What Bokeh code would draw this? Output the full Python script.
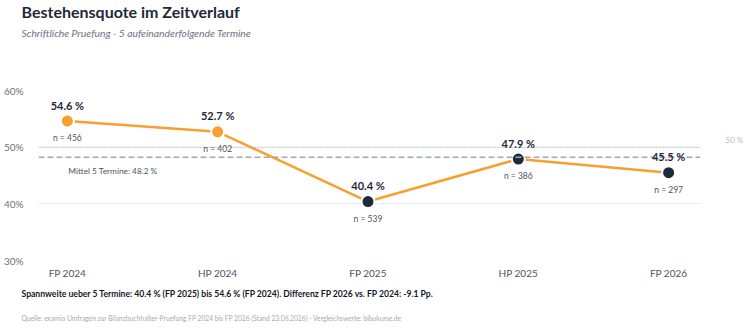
from bokeh.plotting import figure
from bokeh.models import (ColumnDataSource, Label, LabelSet, Span, FixedTicker, Title,
                          LinearAxis, Range1d)
from bokeh.core.properties import value
from bokeh.embed import file_html
from bokeh.resources import INLINE

# Pass rates of the written exam over five consecutive sittings
terms = ["FP 2024", "HP 2024", "FP 2025", "HP 2025", "FP 2026"]
rates = [54.6, 52.7, 40.4, 47.9, 45.5]
n_values = [456, 402, 539, 386, 297]
y_ticks = [30, 40, 50, 60]
threshold = 50

FONT = "Lato"
ORANGE = "#f7a02f"
NAVY = "#1e293b"

mean_rate = round(sum(rates) / len(rates), 1)
idx = list(range(len(terms)))
colors = [ORANGE if r >= threshold else NAVY for r in rates]

src = ColumnDataSource(dict(
    x=idx,
    rate=rates,
    color=colors,
    val_txt=[f"{r:.1f} %" for r in rates],
    n_txt=[f"n = {n}" for n in n_values],
))

Y_LO, Y_HI = 30, 60
p = figure(width=750, height=330, output_backend="svg", toolbar_location=None,
           title=None, x_range=(-0.192, 4.212), y_range=(Y_LO, Y_HI),
           min_border_left=35, min_border_right=50,
           min_border_top=0, min_border_bottom=0)
p.outline_line_color = None
p.background_fill_color = "white"
p.border_fill_color = "white"

# axes
p.xaxis.ticker = FixedTicker(ticks=idx)
p.xaxis.major_label_overrides = {i: t for i, t in enumerate(terms)}
p.yaxis.ticker = FixedTicker(ticks=y_ticks)
p.yaxis.major_label_overrides = {t: f"{t}%" for t in y_ticks}
for ax in (p.xaxis[0], p.yaxis[0]):
    ax.axis_line_color = None
    ax.major_tick_line_color = None
    ax.minor_tick_line_color = None
    ax.major_label_text_font = FONT
    ax.major_label_text_font_size = "10px"
p.xaxis.major_tick_out = 0
p.xaxis.major_tick_in = 0
p.xaxis.major_label_text_color = "#4b5563"
p.yaxis.major_label_text_color = "#6b7280"
p.xaxis.major_label_standoff = 6
p.yaxis.major_label_standoff = 9

p.xgrid.grid_line_color = None
p.ygrid.grid_line_color = "#e8eaee"
p.ygrid.grid_line_width = 1

# right-hand caption of the 50 % threshold, lifted slightly above its line
lift = 1.35
p.extra_y_ranges = {"thr": Range1d(Y_LO - lift, Y_HI - lift)}
thr_axis = LinearAxis(y_range_name="thr", ticker=FixedTicker(ticks=[threshold]),
                      major_label_overrides={threshold: f"{threshold} %"},
                      axis_line_color=None, major_tick_line_color=None,
                      minor_tick_line_color=None, major_label_standoff=19,
                      major_label_text_font=FONT, major_label_text_font_size="8px",
                      major_label_text_color="#b5bcc6")
p.add_layout(thr_axis, "right")

# 50 % reference and mean line
p.add_layout(Span(location=threshold, dimension="width", line_color="#a8adb5",
                  line_width=1, line_dash="1 2"))
p.add_layout(Span(location=mean_rate, dimension="width", line_color="#a3a8b0",
                  line_width=1.5, line_dash="6 3"))
p.add_layout(Label(x=0, y=mean_rate, text=f"Mittel 5 Termine: {mean_rate:.1f} %",
                   x_offset=1, y_offset=-14, text_font=FONT, text_font_size="8.3px",
                   text_color="#4b5563", text_align="left", text_baseline="middle"))

# series
p.line("x", "rate", source=src, line_color=ORANGE, line_width=2.5)
p.scatter("x", "rate", source=src, size=13, fill_color="color",
          line_color="white", line_width=2)

p.add_layout(LabelSet(x="x", y="rate", text="val_txt", source=src, y_offset=16,
                      text_font=value(FONT), text_font_size=value("11px"),
                      text_font_style=value("bold"), text_color=value(NAVY),
                      text_align=value("center"), text_baseline=value("middle")))
p.add_layout(LabelSet(x="x", y="rate", text="n_txt", source=src, y_offset=-17,
                      text_font=value(FONT), text_font_size=value("8.5px"),
                      text_color=value("#4b5563"),
                      text_align=value("center"), text_baseline=value("middle")))

# header (stacked outward from the frame) and footer texts
lo = min(range(len(rates)), key=lambda i: rates[i])
hi = max(range(len(rates)), key=lambda i: rates[i])
diff = rates[-1] - rates[0]
summary = (f"Spannweite ueber {len(terms)} Termine: {rates[lo]:.1f} % ({terms[lo]}) bis "
           f"{rates[hi]:.1f} % ({terms[hi]}). Differenz {terms[-1]} vs. {terms[0]}: {diff:.1f} Pp.")
source_txt = ("Quelle: examio Umfragen zur Bilanzbuchhalter-Pruefung FP 2024 bis FP 2026 "
              "(Stand 23.06.2026) - Vergleichswerte: bibukurse.de")

shift = -17  # from the frame's left edge to the text column
# blank gap between the subtitle and the plotting area
p.add_layout(Title(text=" ", text_font=FONT, text_font_size="1px", standoff=43), "above")
p.add_layout(Title(text="Schriftliche Pruefung - 5 aufeinanderfolgende Termine",
                   text_font=FONT, text_font_size="10.3px", text_font_style="italic",
                   text_color="#6b7280", align="left", offset=shift, standoff=7,
                   vertical_align="top"), "above")
p.add_layout(Title(text="Bestehensquote im Zeitverlauf",
                   text_font=FONT, text_font_size="16px", text_font_style="bold",
                   text_color="#1f2937", align="left", offset=shift, standoff=2,
                   vertical_align="top"), "above")
p.add_layout(Title(text=summary, text_font=FONT, text_font_size="8.6px", text_font_style="bold",
                   text_color="#111827", align="left", offset=shift, standoff=9.6), "below")
p.add_layout(Title(text=source_txt, text_font=FONT, text_font_size="6.7px",
                   text_font_style="normal", text_color="#a3aab5",
                   align="left", offset=shift, standoff=16.7), "below")

open("out.html", "w").write(file_html(p, INLINE))
